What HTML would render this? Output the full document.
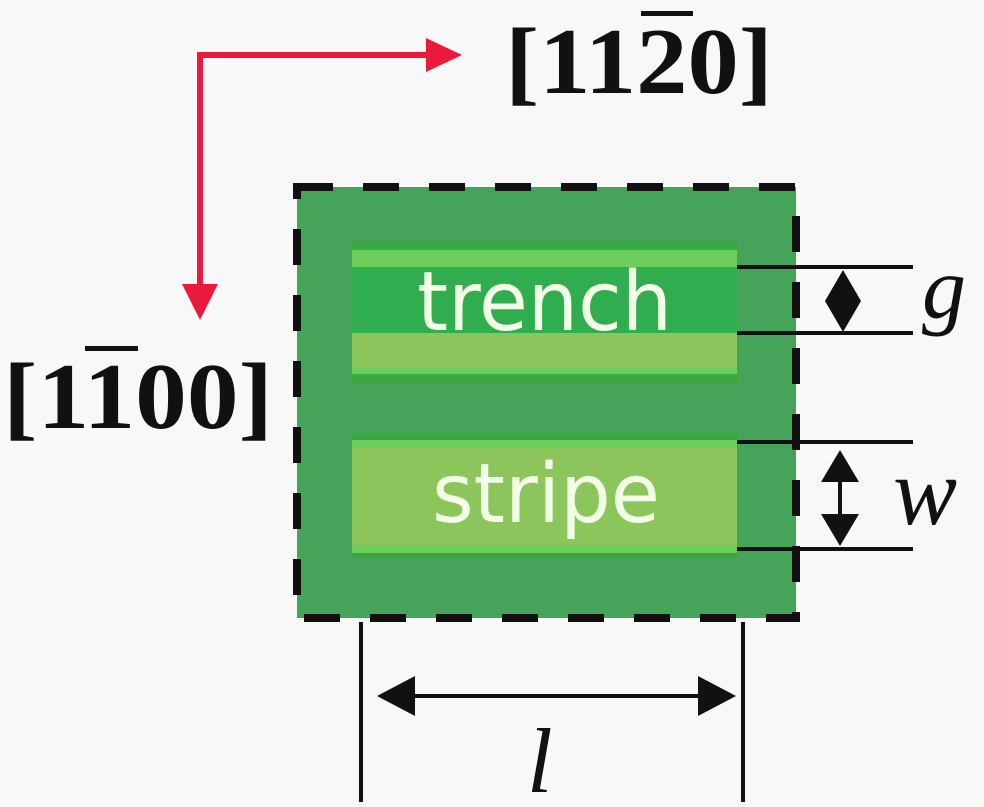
<!DOCTYPE html>
<html><head><meta charset="utf-8"><style>html,body{margin:0;padding:0;background:#f8f8f8}svg{display:block}</style></head>
<body>
<svg width="984" height="807" viewBox="0 0 984 807" xmlns="http://www.w3.org/2000/svg">
<rect width="984" height="807" fill="#f8f8f8"/>
<!-- red axes -->
<path d="M200 55 H432 M200 52 V290" stroke="#ea1a3a" stroke-width="6" fill="none"/>
<polygon points="426,38 462,55 426,72" fill="#ea1a3a"/>
<polygon points="182,284 200,320 218,284" fill="#ea1a3a"/>
<!-- labels -->
<g font-family="Liberation Serif, serif" font-weight="bold" fill="#111">
<text x="505" y="93" font-size="94" textLength="268" lengthAdjust="spacingAndGlyphs">[11<tspan>2</tspan>0]</text>
<rect x="641" y="11" width="52" height="5"/>
<text x="3" y="428" font-size="94" textLength="270" lengthAdjust="spacingAndGlyphs">[1100]</text>
<rect x="85" y="346" width="53" height="5"/>
</g>
<!-- box -->
<rect x="297" y="187" width="499" height="431" fill="#46a35a"/>
<rect x="352" y="241" width="385" height="9" fill="#3aa840"/>
<rect x="352" y="250" width="385" height="17" fill="#6acd5c"/>
<rect x="352" y="267" width="385" height="66" fill="#2fad4f"/>
<rect x="352" y="333" width="385" height="35" fill="#8bc55c"/>
<rect x="352" y="368" width="385" height="6" fill="#6acd5c"/>
<rect x="352" y="374" width="385" height="9" fill="#3aa840"/>
<rect x="352" y="434" width="385" height="6" fill="#3aa840"/>
<rect x="352" y="440" width="385" height="8" fill="#6acd5c"/>
<rect x="352" y="448" width="385" height="97" fill="#8bc55c"/>
<rect x="352" y="545" width="385" height="8" fill="#6acd5c"/>
<rect x="352" y="553" width="385" height="5" fill="#3aa840"/>
<rect x="297" y="187" width="499" height="431" fill="none" stroke="#111" stroke-width="8" stroke-dasharray="36,30"/>
<g font-family="DejaVu Sans, sans-serif" fill="#f2ffe6" font-size="82">
<text x="417" y="330" textLength="255" lengthAdjust="spacingAndGlyphs">trench</text>
<text x="432" y="522" textLength="228" lengthAdjust="spacingAndGlyphs">stripe</text>
</g>
<!-- dimension lines -->
<g stroke="#111" stroke-width="4" fill="none">
<path d="M737 267 H913 M737 333 H913 M737 442 H913 M737 549 H913"/>
<path d="M361 622 V802 M743 622 V802"/>
<path d="M405 696 H710"/>
<path d="M840 470 V520"/>
</g>
<g fill="#111">
<polygon points="843,270 861,301 843,332 825,301"/>
<polygon points="840,450 859,482 821,482"/>
<polygon points="840,546 859,514 821,514"/>
<polygon points="377,696 415,676 415,716"/>
<polygon points="736,696 698,676 698,716"/>
</g>
<g font-family="Liberation Serif, serif" font-style="italic" fill="#111">
<text x="922" y="318" font-size="88">g</text>
<text x="893" y="524" font-size="96">w</text>
<text x="527" y="792" font-size="92">l</text>
</g>
</svg>
</body></html>
